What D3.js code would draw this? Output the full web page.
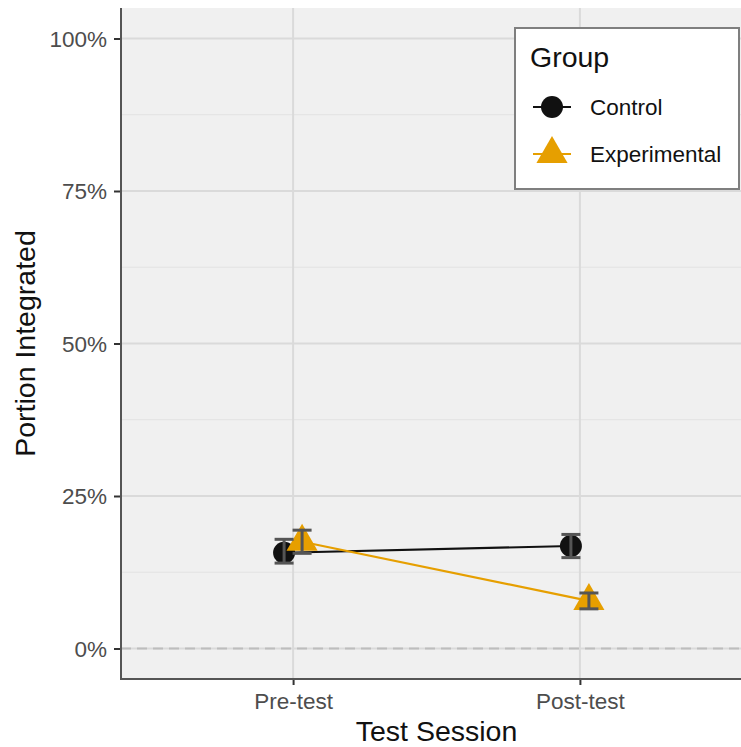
<!DOCTYPE html>
<html>
<head>
<meta charset="utf-8">
<script src="https://cdn.jsdelivr.net/npm/d3@7"></script>
<style>
  html, body { margin: 0; padding: 0; background: #ffffff; }
  svg { display: block; font-family: "Liberation Sans", Arial, sans-serif; }
</style>
</head>
<body>
<svg id="chart" width="741" height="747"></svg>
<script>
// Test sessions on the x axis
const sessions = ["Pre-test", "Post-test"];
// Groups and their styles
const groups = ["Control", "Experimental"];
const groupColors = ["#111111", "#E69F00"];
// Mean portion integrated per group, per session
const controlMean = [0.157, 0.168];
const experimentalMean = [0.175, 0.078];
// Error bar bounds (lower, upper)
const controlLower = [0.140, 0.149];
const controlUpper = [0.179, 0.187];
const experimentalLower = [0.156, 0.065];
const experimentalUpper = [0.194, 0.091];
// Y tick values
const yTicks = [0, 0.25, 0.5, 0.75, 1];
const yMinor = [0.125, 0.375, 0.625, 0.875];

const svg = d3.select("#chart");
const W = 741, H = 747;
const panel = { left: 121, top: 8, right: 752, bottom: 679 };
const tickFont = "22.5px", titleFont = "28.5px";

const y = d3.scaleLinear().domain([-0.05, 1.05]).range([panel.bottom, panel.top]);
// Discrete x positions with 0.6 unit padding on each side
const xIdx = d3.scaleLinear().domain([-0.6, 1.6]).range([panel.left, panel.right]);
const x = s => xIdx(sessions.indexOf(s));
const dodge = [-9, 9];

const series = [
  { name: groups[0], color: groupColors[0], mean: controlMean, lo: controlLower, hi: controlUpper, shape: "circle" },
  { name: groups[1], color: groupColors[1], mean: experimentalMean, lo: experimentalLower, hi: experimentalUpper, shape: "triangle" }
];

const defs = svg.append("defs");
defs.append("clipPath").attr("id", "panelClip").append("rect")
  .attr("x", panel.left).attr("y", panel.top)
  .attr("width", W - panel.left).attr("height", panel.bottom - panel.top);

// Panel background
svg.append("rect").attr("x", panel.left).attr("y", panel.top)
  .attr("width", W - panel.left).attr("height", panel.bottom - panel.top)
  .attr("fill", "#f0f0f0");

const g = svg.append("g").attr("clip-path", "url(#panelClip)");

// Minor gridlines
g.selectAll("line.minor").data(yMinor).enter().append("line")
  .attr("x1", panel.left).attr("x2", W)
  .attr("y1", d => y(d)).attr("y2", d => y(d))
  .attr("stroke", "#e2e2e2").attr("stroke-width", 1);

// Major gridlines
g.selectAll("line.major").data(yTicks).enter().append("line")
  .attr("x1", panel.left).attr("x2", W)
  .attr("y1", d => y(d)).attr("y2", d => y(d))
  .attr("stroke", "#dadada").attr("stroke-width", 2);
g.selectAll("line.vmajor").data(sessions).enter().append("line")
  .attr("x1", d => x(d)).attr("x2", d => x(d))
  .attr("y1", panel.top).attr("y2", panel.bottom)
  .attr("stroke", "#dadada").attr("stroke-width", 2);

// Zero reference line
g.append("line")
  .attr("x1", panel.left).attr("x2", W)
  .attr("y1", y(0)).attr("y2", y(0))
  .attr("stroke", "#bdbdbd").attr("stroke-width", 2)
  .attr("stroke-dasharray", "10,6");

// Lines connecting sessions within each group
const lineGen = d3.line().x(d => d[0]).y(d => d[1]);
series.forEach((s, gi) => {
  const pts = sessions.map((sess, i) => [x(sess) + dodge[gi], y(s.mean[i])]);
  g.append("path").attr("d", lineGen(pts))
    .attr("fill", "none").attr("stroke", s.color).attr("stroke-width", 2.2);
});

// Points
const tri = d3.symbol().type(d3.symbolTriangle).size(420);
series.forEach((s, gi) => {
  sessions.forEach((sess, i) => {
    const cx = x(sess) + dodge[gi], cy = y(s.mean[i]);
    if (s.shape === "circle") {
      g.append("circle").attr("cx", cx).attr("cy", cy).attr("r", 11).attr("fill", s.color);
    } else {
      g.append("path").attr("d", tri).attr("transform", `translate(${cx},${cy})`).attr("fill", s.color);
    }
  });
});

// Error bars
series.forEach((s, gi) => {
  sessions.forEach((sess, i) => {
    const cx = x(sess) + dodge[gi];
    const eb = g.append("g").attr("stroke", "#555555").attr("stroke-width", 3);
    eb.append("line").attr("x1", cx).attr("x2", cx).attr("y1", y(s.lo[i])).attr("y2", y(s.hi[i]));
    eb.append("line").attr("x1", cx - 9.5).attr("x2", cx + 9.5).attr("y1", y(s.lo[i])).attr("y2", y(s.lo[i]));
    eb.append("line").attr("x1", cx - 9.5).attr("x2", cx + 9.5).attr("y1", y(s.hi[i])).attr("y2", y(s.hi[i]));
  });
});

// Axes
const yAxis = d3.axisLeft(y).tickValues(yTicks).tickFormat(d3.format(".0%")).tickSize(7).tickPadding(7);
const yG = svg.append("g").attr("transform", `translate(${panel.left},0)`).call(yAxis);
yG.select(".domain").remove();
yG.selectAll(".tick line").attr("stroke", "#333333").attr("stroke-width", 2);
yG.selectAll(".tick text").attr("fill", "#4d4d4d").attr("dy", "0.35em").style("font-size", tickFont)
  .style("font-family", "'Liberation Sans', Arial, sans-serif");

const xBand = d3.scalePoint().domain(sessions).range([x(sessions[0]), x(sessions[1])]);
const xAxis = d3.axisBottom(xBand).tickSize(6).tickPadding(8);
const xG = svg.append("g").attr("transform", `translate(0,${panel.bottom})`).call(xAxis);
xG.select(".domain").remove();
xG.selectAll(".tick line").attr("stroke", "#333333").attr("stroke-width", 2);
xG.selectAll(".tick text").attr("fill", "#4d4d4d").style("font-size", tickFont)
  .style("font-family", "'Liberation Sans', Arial, sans-serif");

// Axis lines
svg.append("line").attr("x1", panel.left).attr("x2", panel.left)
  .attr("y1", panel.top).attr("y2", panel.bottom + 1)
  .attr("stroke", "#555555").attr("stroke-width", 2);
svg.append("line").attr("x1", panel.left - 1).attr("x2", W)
  .attr("y1", panel.bottom).attr("y2", panel.bottom)
  .attr("stroke", "#555555").attr("stroke-width", 2);

// Axis titles
svg.append("text").attr("x", (panel.left + panel.right) / 2).attr("y", 741)
  .attr("text-anchor", "middle").attr("fill", "#111").style("font-size", titleFont)
  .text("Test Session");
svg.append("text").attr("transform", `translate(35,${(panel.top + panel.bottom) / 2}) rotate(-90)`)
  .attr("text-anchor", "middle").attr("fill", "#111").style("font-size", titleFont)
  .text("Portion Integrated");

// Legend
const lg = svg.append("g");
lg.append("rect").attr("x", 515).attr("y", 28).attr("width", 224).attr("height", 161)
  .attr("fill", "#ffffff").attr("stroke", "#7f7f7f").attr("stroke-width", 2);
lg.append("text").attr("x", 530).attr("y", 67).attr("fill", "#111").style("font-size", titleFont).text("Group");
series.forEach((s, i) => {
  const ky = 107 + i * 47;
  lg.append("line").attr("x1", 533).attr("x2", 571).attr("y1", ky).attr("y2", ky)
    .attr("stroke", s.color).attr("stroke-width", 2.2);
  if (s.shape === "circle") {
    lg.append("circle").attr("cx", 552).attr("cy", ky).attr("r", 11).attr("fill", s.color);
  } else {
    lg.append("path").attr("d", tri).attr("transform", `translate(552,${ky})`).attr("fill", s.color);
  }
  lg.append("text").attr("x", 590).attr("y", ky + 8).attr("fill", "#111").style("font-size", tickFont).text(s.name);
});
</script>
</body>
</html>
